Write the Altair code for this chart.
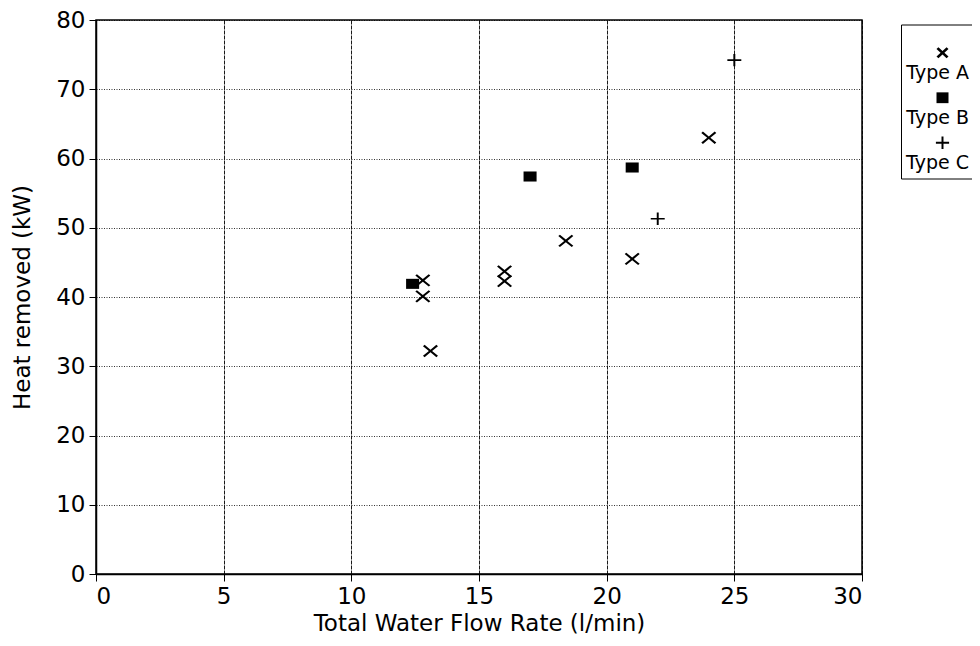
import math
import altair as alt
import pandas as pd

# ---- data ----
types = ["Type A", "Type B", "Type C"]
type_a_flow = [12.8, 12.8, 13.1, 16.0, 16.0, 18.4, 21.0, 24.0]
type_a_heat = [42.4, 40.1, 32.2, 43.7, 42.3, 48.1, 45.5, 63.0]
type_b_flow = [12.4, 17.0, 21.0]
type_b_heat = [41.9, 57.4, 58.7]
type_c_flow = [22.0, 25.0]
type_c_heat = [51.3, 74.2]
x_ticks = [0, 5, 10, 15, 20, 25, 30]
y_ticks = [0, 10, 20, 30, 40, 50, 60, 70, 80]

rows = []
for name, xs, ys in [("Type A", type_a_flow, type_a_heat),
                     ("Type B", type_b_flow, type_b_heat),
                     ("Type C", type_c_flow, type_c_heat)]:
    for xv, yv in zip(xs, ys):
        rows.append({"flow": xv, "heat": yv, "type": name})
df = pd.DataFrame(rows)


# ---- marker shapes (custom symbol paths) ----
def cross_path(t, rot, sx, sy, dy=0.0):
    L = 1.0
    pts = [(-t, -L), (t, -L), (t, -t), (L, -t), (L, t), (t, t),
           (t, L), (-t, L), (-t, t), (-L, t), (-L, -t), (-t, -t)]
    if rot:
        pts = [((px - py) / math.sqrt(2), (px + py) / math.sqrt(2)) for px, py in pts]
        norm = (L + t) / math.sqrt(2)
        pts = [(px / norm, py / norm) for px, py in pts]
    pts = [(px * sx, py * sy + dy) for px, py in pts]
    return "M" + "L".join(f"{px:.3f},{py:.3f}" for px, py in pts) + "Z"


def rect_path(hw, hh, dy=0.0):
    return (f"M{-hw:.3f},{-hh + dy:.3f}L{hw:.3f},{-hh + dy:.3f}"
            f"L{hw:.3f},{hh + dy:.3f}L{-hw:.3f},{hh + dy:.3f}Z")


data_paths = [cross_path(0.12, True, 1.0, 0.82),
              rect_path(0.87, 0.67),
              cross_path(0.14, False, 0.93, 0.82)]
shift = -1.5
legend_paths = [cross_path(0.19, True, 0.8, 0.72, shift),
                rect_path(0.8, 0.72, shift),
                cross_path(0.15, False, 0.88, 0.82, shift)]

FONT = "DejaVu Sans"

x_enc = alt.X("flow:Q", title="Total Water Flow Rate (l/min)",
              scale=alt.Scale(domain=[0, 30], nice=False),
              axis=alt.Axis(values=x_ticks, gridDash=[4, 1], gridColor="black",
                            gridOpacity=0.9, titlePadding=4))
y_enc = alt.Y("heat:Q", title="Heat removed (kW)",
              scale=alt.Scale(domain=[0, 80], nice=False),
              axis=alt.Axis(values=y_ticks, gridDash=[1, 1.5], gridColor="black",
                            gridOpacity=0.8, titlePadding=21))

points = alt.Chart(df).mark_point(filled=True, color="black", size=225,
                                  opacity=1, strokeWidth=0).encode(
    x=x_enc, y=y_enc,
    shape=alt.Shape("type:N", scale=alt.Scale(domain=types, range=data_paths),
                    legend=None),
)

legend_layer = alt.Chart(df).transform_filter("false").mark_point(
    filled=True, color="black", size=225, opacity=1, strokeWidth=0).encode(
    x=x_enc, y=y_enc,
    shape=alt.Shape("type:N", scale=alt.Scale(domain=types, range=legend_paths),
                    legend=alt.Legend(
                        orient="none", legendX=805, legendY=4.5,
                        title=" ", titleFontSize=12, titlePadding=13,
                        labelFont=FONT, labelFontSize=19, labelColor="black",
                        labelAlign="right", labelBaseline="top",
                        labelOffset=17, symbolOffset=27, symbolSize=225,
                        symbolStrokeWidth=0, symbolFillColor="black",
                        strokeColor="black", fillColor="white",
                        padding=5, rowPadding=8)),
)

chart = alt.layer(points, legend_layer).resolve_scale(
    shape="independent"
).properties(
    width=766, height=554,
    autosize=alt.AutoSizeParams(type="none"),
    padding={"left": 88, "top": 12, "right": 110, "bottom": 62},
    background="white",
).configure_view(
    stroke="black", strokeWidth=1.5
).configure_axis(
    domainColor="black", domainWidth=1.5,
    tickColor="black", tickSize=7, tickWidth=1,
    labelFont=FONT, labelFontSize=23, labelColor="black", labelPadding=4,
    titleFont=FONT, titleFontSize=23, titleFontWeight="normal", titleColor="black",
    gridWidth=1,
)

chart.save("out.html", embed_options={"renderer": "svg", "actions": False})
